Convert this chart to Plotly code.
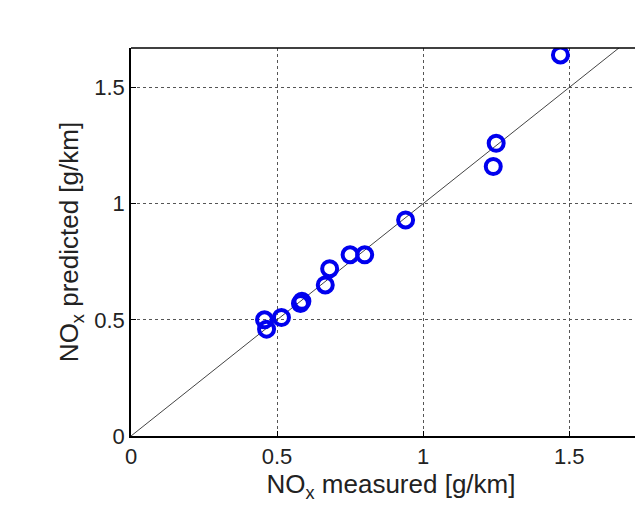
import plotly.graph_objects as go

measured = [1.47, 1.25, 1.24, 0.94, 0.75, 0.80, 0.68, 0.665, 0.58, 0.585, 0.515, 0.457, 0.464]
predicted = [1.64, 1.26, 1.16, 0.93, 0.78, 0.78, 0.72, 0.65, 0.57, 0.58, 0.51, 0.50, 0.46]
line_xy = [0, 2]
ticks = [0, 0.5, 1, 1.5]

fig = go.Figure()
fig.add_trace(go.Scatter(x=line_xy, y=line_xy, mode="lines", line=dict(color="#444", width=1), hoverinfo="skip"))
fig.add_trace(go.Scatter(x=measured, y=predicted, mode="markers",
                         marker=dict(symbol="circle-open", size=15, color="#0000ee", line=dict(width=4, color="#0000ee"))))
ax = dict(tickvals=ticks, ticktext=["0", "0.5", "1", "1.5"], showgrid=True, gridcolor="#555",
          griddash="dot", gridwidth=1, zeroline=False, showline=True, linecolor="black", linewidth=1.5,
          ticks="inside", ticklen=5, tickcolor="black", tickfont=dict(size=22, family="Liberation Sans", color="#222"))
fig.update_layout(
    width=643, height=515, showlegend=False, plot_bgcolor="white", paper_bgcolor="white",
    margin=dict(l=123, r=0, t=40, b=87),
    xaxis=dict(ax, range=[0, 1.78], title=dict(text="NO<sub>x</sub> measured [g/km]", standoff=2,
               font=dict(size=26, family="Liberation Sans", color="#222"))),
    yaxis=dict(ax, range=[0, 1.67], title=dict(text="NO<sub>x</sub> predicted [g/km]", standoff=8,
               font=dict(size=26, family="Liberation Sans", color="#222"))),
)
fig.update_xaxes(mirror=False)
fig.update_yaxes(mirror=False)
fig.add_shape(type="line", xref="paper", yref="paper", x0=0, x1=1, y0=1, y1=1, line=dict(color="black", width=1.5))
fig.write_html("out.html")
